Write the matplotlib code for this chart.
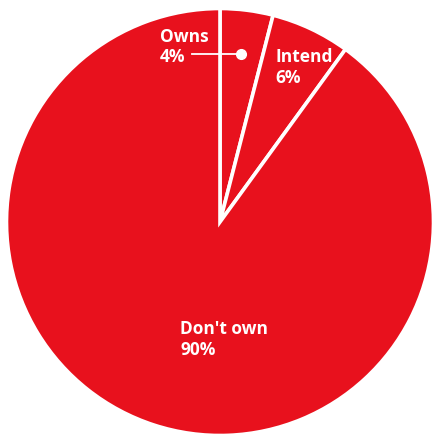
import matplotlib.pyplot as plt

labels = ["Owns", "Intend", "Don't own"]
shares = [4, 6, 90]

red = "#E8111D"

fig = plt.figure(figsize=(4.33, 4.37), dpi=100)
# square axes so the pie fills the figure
ax = fig.add_axes([6.5 / 433, 1.5 / 437, 427 / 433, 427 / 437])

wedges, _ = ax.pie(shares, colors=[red] * 3, startangle=90, counterclock=False,
                   wedgeprops=dict(edgecolor="white", linewidth=2.6))
ax.set_xlim(-1, 1)
ax.set_ylim(-1, 1)
ax.axis("off")

font = dict(family="Open Sans", fontweight="bold", fontsize=12.5, color="white",
            linespacing=1.2, ha="left", va="center")

# Owns sits outside its thin slice with a leader line
ax.text(-0.281, 0.82, f"{labels[0]}\n{shares[0]}%", **font)
ax.plot([-0.131, 0.098], [0.787, 0.787], color="white", lw=1.3)
ax.plot(0.098, 0.787, "o", color="white", ms=7)

ax.text(0.258, 0.725, f"{labels[1]}\n{shares[1]}%", **font)
ax.text(-0.187, -0.55, f"{labels[2]}\n{shares[2]}%", **font)

fig.savefig("out.png", dpi=100)
